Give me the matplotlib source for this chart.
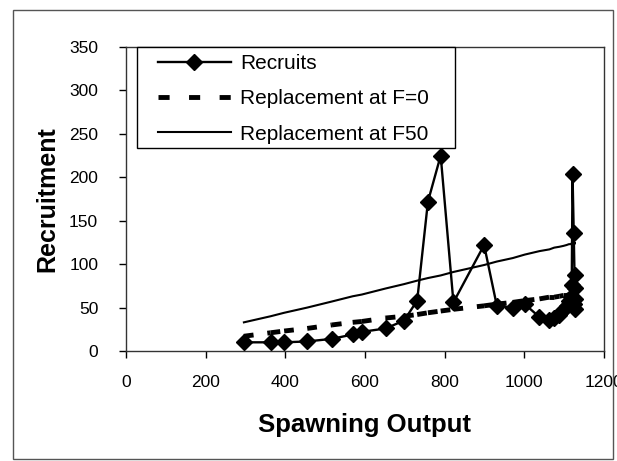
import matplotlib
matplotlib.use("Agg")
import matplotlib.pyplot as plt
from matplotlib.collections import LineCollection
from matplotlib.lines import Line2D
from matplotlib.patches import Rectangle
import numpy as np

plt.rcParams['font.family'] = ['Liberation Sans', 'DejaVu Sans']
plt.rcParams['lines.scale_dashes'] = False

# Data
spawning = [296, 363, 397, 455, 517, 569, 592, 652, 698, 731, 758, 790, 822,
            899, 931, 971, 1001, 1038, 1063, 1075, 1088, 1098, 1106, 1112,
            1116, 1119, 1121, 1124, 1126, 1127, 1126, 1125, 1126]
recruits = [10, 10, 10, 11, 14, 19, 22, 26, 35, 58, 172, 225, 56,
            122, 52, 50, 54, 39, 36, 38, 42, 47, 52, 58,
            62, 76, 204, 136, 88, 72, 60, 54, 48]
repl_f0 = [17, 21, 23, 26, 30, 33, 34, 38, 40, 42, 44, 46, 48,
           52, 54, 56, 58, 60, 62, 62, 63, 64, 64, 64.5,
           65, 65, 65, 65, 65, 65, 65, 65, 65]
repl_f50 = [33, 40, 44, 50, 57, 63, 65, 72, 77, 81, 84, 87, 91,
            99, 103, 107, 111, 115, 117, 119, 120, 121, 122, 123,
            123, 124, 124, 124, 124, 124, 124, 124, 124]

xticks = [0, 200, 400, 600, 800, 1000, 1200]
yticks = [0, 50, 100, 150, 200, 250, 300, 350]

W, H = 617, 461
fig = plt.figure(figsize=(W / 100, H / 100), dpi=100)
ax = fig.add_axes([126 / W, 1 - 351 / H, (604 - 126) / W, (351 - 47) / H])

# Replacement at F50: thin solid line
ax.plot(spawning, repl_f50, color='black', lw=1.5, zorder=2)

# Replacement at F=0: thick dashed, dash pattern restarting at each vertex
pts = np.column_stack([spawning, repl_f0])
segs = [pts[i:i + 2] for i in range(len(pts) - 1)]
lc = LineCollection(segs, colors='black', linewidths=3.5,
                    linestyles=[(0, (7, 10))], capstyle='butt', zorder=2)
ax.add_collection(lc)

# Recruits
ax.plot(spawning, recruits, color='black', lw=1.7, marker='D', ms=8.5,
        mfc='black', mec='black', zorder=3)

ax.set_xlim(0, 1200)
ax.set_ylim(0, 350)
ax.set_xticks(xticks)
ax.set_xticklabels([str(t) for t in xticks])
ax.set_yticks(yticks)
ax.set_yticklabels([str(t) for t in yticks])
ax.tick_params(axis='both', direction='out', length=5, width=1, labelsize=12.5,
               colors='black')
ax.tick_params(axis='y', pad=15)
ax.tick_params(axis='x', pad=12)
for s in ax.spines.values():
    s.set_linewidth(1.0)
    s.set_color('#333333')

ax.set_xlabel('Spawning Output', fontsize=18.5, fontweight='bold', labelpad=17)
ax.set_ylabel('Recruitment', fontsize=18, fontweight='bold', labelpad=7)

# Legend frame drawn as a box touching the plot top
aw, ah = 604 - 126, 351 - 47
legend_frame = Rectangle(((137 - 126) / aw, (351 - 148) / ah),
                         (455 - 137) / aw, (148 - 47) / ah,
                         transform=ax.transAxes, fill=True, facecolor='white',
                         edgecolor='black', lw=1.0, zorder=4, clip_on=False)
ax.add_patch(legend_frame)

handles = [
    Line2D([], [], color='black', lw=1.7, marker='D', ms=8.5),
    Line2D([], [], color='black', lw=3.5, linestyle=(0, (8, 14)), dash_capstyle='butt'),
    Line2D([], [], color='black', lw=1.5),
]
labels = ['Recruits', 'Replacement at F=0', 'Replacement at F50']
leg = ax.legend(handles, labels, loc='upper left',
                bbox_to_anchor=((158 - 126) / aw, (351 - 54) / ah),
                fontsize=15, frameon=False, handlelength=3.5,
                handletextpad=0.45, labelspacing=0.78, borderpad=0,
                borderaxespad=0)
leg.set_zorder(5)

# Outer figure border
fig.patches.append(Rectangle((13 / W, 1 - 459 / H), (613 - 13) / W, (459 - 10) / H,
                             transform=fig.transFigure, fill=False,
                             edgecolor='#555555', lw=1.0))

fig.savefig('out.png', dpi=100)
